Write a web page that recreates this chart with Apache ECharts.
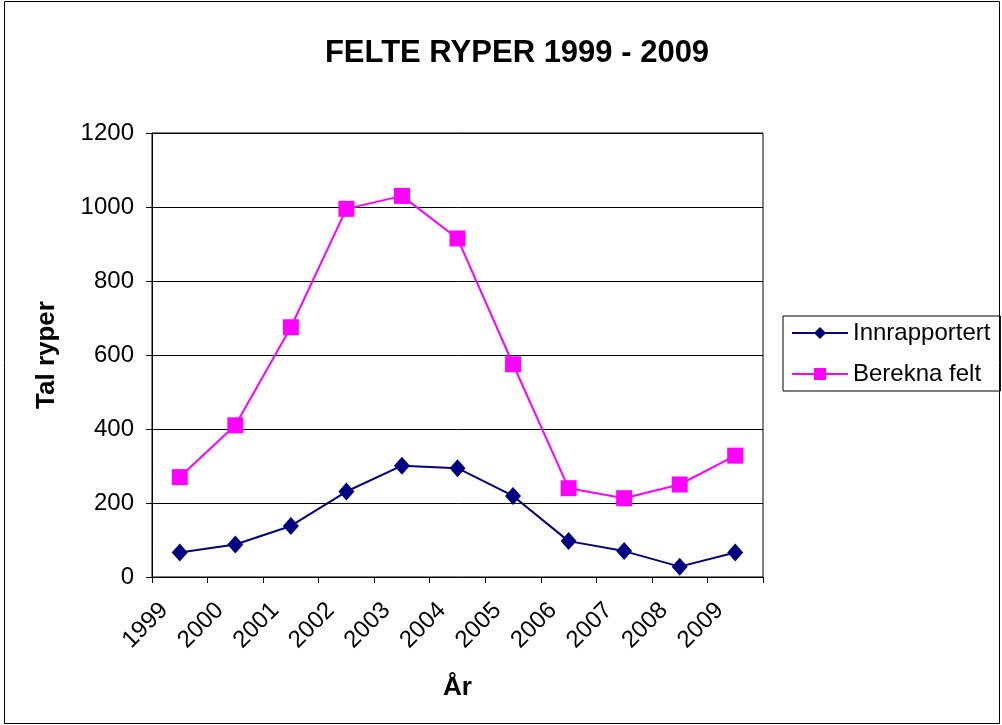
<!DOCTYPE html>
<html><head><meta charset="utf-8">
<script src="https://cdn.jsdelivr.net/npm/echarts@6/dist/echarts.min.js"></script>
<style>html,body{margin:0;padding:0;background:#fff}#c{width:1002px;height:725px}</style>
</head><body><div id="c"></div>
<script>
const years = ['1999','2000','2001','2002','2003','2004','2005','2006','2007','2008','2009'];
const innrapportert = [66, 88, 138, 231, 301, 294, 219, 97, 70, 28, 66];
const bereknaFelt = [270, 410, 675, 995, 1030, 915, 575, 240, 213, 250, 328];
const yTicks = {min: 0, max: 1200, interval: 200};

const chart = echarts.init(document.getElementById('c'), null, {renderer: 'canvas'});
const F = 'Liberation Sans, Arial, sans-serif';
chart.setOption({
  animation: false,
  backgroundColor: '#fff',
  title: {
    text: 'FELTE RYPER 1999 - 2009', left: 512, textAlign: 'center', top: 33,
    textStyle: {fontFamily: F, fontSize: 31, fontWeight: 'bold', color: '#000'}
  },
  graphic: [{type: 'rect', shape: {x: 4.5, y: 1.5, width: 995, height: 722}, style: {fill: 'none', stroke: '#000', lineWidth: 1}, silent: true}],
  legend: {
    orient: 'vertical', left: 783, top: 316, width: 216,
    padding: [5, 10, 5, 8], itemGap: 17,
    borderColor: '#000', borderWidth: 1,
    itemWidth: 56, itemHeight: 15,
    textStyle: {fontFamily: F, fontSize: 24, color: '#000'},
    data: ['Innrapportert', 'Berekna felt']
  },
  grid: {left: 152, top: 133, right: 239, bottom: 148, show: true, borderColor: '#000', borderWidth: 1, containLabel: false},
  xAxis: {
    type: 'category', data: years, boundaryGap: true,
    name: 'År', nameLocation: 'middle', nameGap: 98,
    nameTextStyle: {fontFamily: F, fontSize: 26, fontWeight: 'bold', color: '#000'},
    axisLine: {lineStyle: {color: '#000', width: 1}},
    axisTick: {show: true, length: 6, lineStyle: {color: '#000'}, interval: 0},
    axisLabel: {rotate: 45, interval: 0, margin: 14, fontFamily: F, fontSize: 24, color: '#000', padding: [0, 22, 0, 0]},
    splitLine: {show: false}
  },
  yAxis: {
    type: 'value', min: yTicks.min, max: yTicks.max, interval: yTicks.interval,
    name: 'Tal ryper', nameLocation: 'middle', nameGap: 92, nameRotate: 90,
    nameTextStyle: {fontFamily: F, fontSize: 26, fontWeight: 'bold', color: '#000'},
    axisLine: {show: true, lineStyle: {color: '#000', width: 1}},
    axisTick: {show: true, length: 6, lineStyle: {color: '#000'}},
    axisLabel: {margin: 18, fontFamily: F, fontSize: 24, color: '#000', formatter: v => String(v)},
    splitLine: {show: true, lineStyle: {color: '#000', width: 1}}
  },
  series: [
    {name: 'Innrapportert', type: 'line', data: innrapportert, symbol: 'diamond', symbolSize: [16, 18],
     lineStyle: {color: '#000080', width: 2}, itemStyle: {color: '#000080'}},
    {name: 'Berekna felt', type: 'line', data: bereknaFelt, symbol: 'rect', symbolSize: 16,
     lineStyle: {color: '#FF00FF', width: 2}, itemStyle: {color: '#FF00FF'}}
  ]
});
</script></body></html>
